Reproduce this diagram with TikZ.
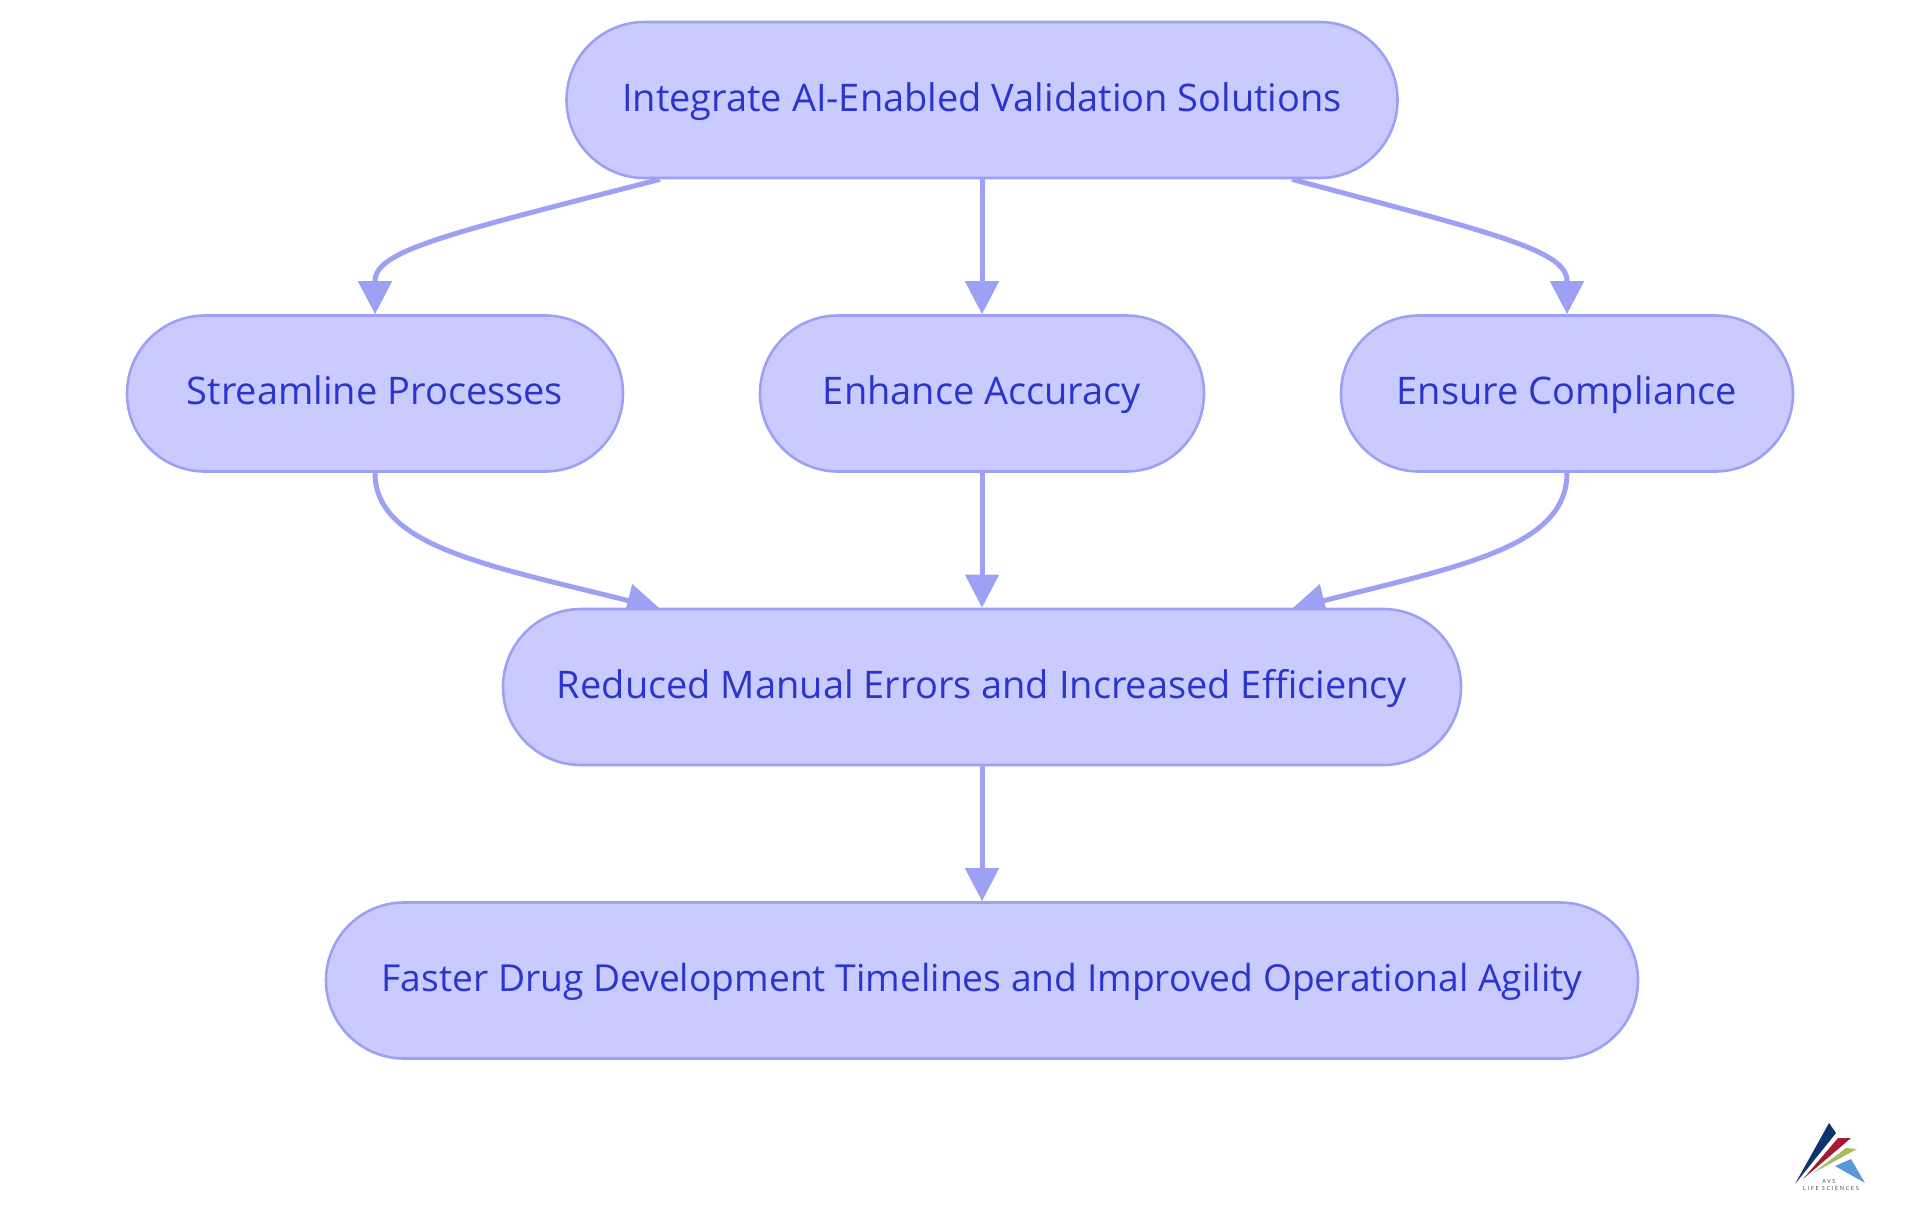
\documentclass[tikz,border=0pt]{standalone}
\usepackage{fontspec}
\setmainfont{Open Sans}
\usetikzlibrary{arrows.meta,backgrounds,positioning}

\definecolor{boxfill}{RGB}{201,203,255}
\definecolor{boxline}{RGB}{157,161,245}
\definecolor{boxtext}{RGB}{43,53,205}

\tikzstyle{block} = [rectangle, draw=boxline, fill=boxfill, text=boxtext, line width=1.3pt, text centered, minimum height=78pt, text height=15pt, text depth=4pt, rounded corners=39pt, font=\fontsize{19pt}{23pt}\selectfont]
\tikzstyle{arrow} = [draw=boxline, line width=2.5pt, -{Triangle[length=16.5pt,width=16.5pt]}]
\tikzstyle{nohead} = [draw=boxline, line width=2.5pt]
\tikzstyle{logotext} = [font=\fontsize{2.8pt}{3pt}\selectfont, text=black!75, inner sep=0pt]

\begin{document}
\begin{tikzpicture}[x=1pt, y=1pt, node distance=146.75pt, auto]
    \useasboundingbox (0,0) rectangle (960,-607.5);

    \node[block, minimum width=415.5pt] (integrate) at (491,-50) {Integrate AI-Enabled Validation Solutions};

    \node[block, below of=integrate, xshift=-303.5pt, minimum width=248pt] (streamline) {Streamline Processes};
    \node[block, below of=integrate, minimum width=222pt] (accuracy) {Enhance Accuracy};
    \node[block, below of=integrate, xshift=292.5pt, minimum width=226pt] (compliance) {Ensure Compliance};

    \node[block, below of=accuracy, minimum width=479pt] (errors) {Reduced Manual Errors and Increased Efficiency};
    \node[block, below of=errors, minimum width=656pt, font=\fontsize{18.6pt}{23pt}\selectfont] (faster) {Faster Drug Development Timelines and Improved Operational Agility};

    % lines
    \begin{pgfonlayer}{background}
    \draw [nohead] ([xshift=-161pt]integrate.south) .. controls +(-105,-27) and +(0,15.5) .. ([yshift=16.5pt]streamline.north);
    \draw [arrow] ([yshift=16.5pt]streamline.north) -- (streamline.north);
    \draw [arrow] (integrate.south) to (accuracy.north);
    \draw [nohead] ([xshift=155pt]integrate.south) .. controls +(101,-27) and +(0,15.5) .. ([yshift=16.5pt]compliance.north);
    \draw [arrow] ([yshift=16.5pt]compliance.north) -- (compliance.north);

    \draw [arrow] (streamline.south) .. controls +(0,-37) and +(-85,21.5) .. ([xshift=-161pt,yshift=-0.5pt]errors.north);
    \draw [arrow] (accuracy.south) to (errors.north);
    \draw [arrow] (compliance.south) .. controls +(0,-37) and +(85,21.5) .. ([xshift=155pt,yshift=-0.5pt]errors.north);

    \draw [arrow] (errors.south) to (faster.north);
    \end{pgfonlayer}

    % logo
    \fill[fill={rgb,255:red,13;green,52;blue,110}] (914.5,-561.5) -- (918,-566.5) -- (897.5,-592) -- cycle;
    \fill[fill={rgb,255:red,163;green,28;blue,50}] (919,-569) -- (925.5,-569) -- (901.5,-589.5) -- cycle;
    \fill[fill={rgb,255:red,167;green,188;blue,92}] (923,-574) -- (928.5,-574.5) -- (906.5,-586.5) -- cycle;
    \fill[fill={rgb,255:red,91;green,152;blue,218}] (925.5,-579.5) -- (917.5,-583) -- (932.5,-591.5) -- cycle;
    \node[logotext] (logoname) at (914.5,-590.7) {\addfontfeature{LetterSpace=30}AVS};
    \node[logotext] (logosub) at (915.5,-594) {\addfontfeature{LetterSpace=30}LIFE SCIENCES};
\end{tikzpicture}
\end{document}
